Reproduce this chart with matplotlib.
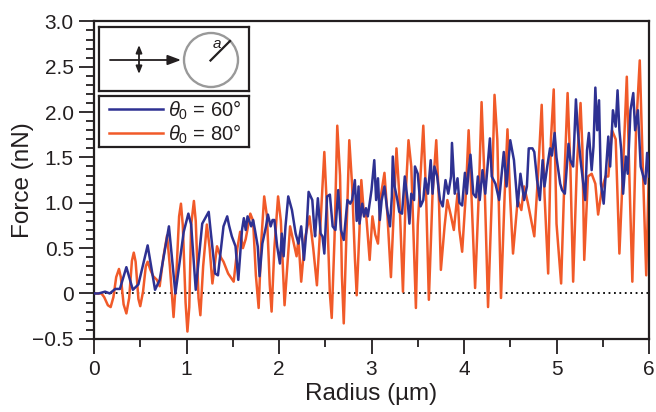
import matplotlib
matplotlib.use('Agg')
import matplotlib.pyplot as plt
from matplotlib.patches import Circle
from matplotlib.ticker import MultipleLocator

plt.rcParams['font.family'] = ['Liberation Sans', 'DejaVu Sans']
plt.rcParams['mathtext.fontset'] = 'custom'
plt.rcParams['mathtext.rm'] = 'Liberation Sans'
plt.rcParams['mathtext.it'] = 'Liberation Sans:italic'

# ---------------- data ----------------
blue_x = [0.00, 0.05, 0.12, 0.17, 0.23, 0.28, 0.35, 0.42, 0.48, 0.58, 0.66, 0.71, 0.81, 0.88,
          0.97, 1.02, 1.05, 1.10, 1.17, 1.24, 1.26, 1.31, 1.34, 1.40, 1.44, 1.46, 1.49, 1.53,
          1.56, 1.60, 1.62, 1.64, 1.66, 1.70, 1.72, 1.74, 1.77, 1.79, 1.82, 1.86, 1.88, 1.91,
          1.93, 1.95, 1.98, 2.01, 2.03, 2.05, 2.07, 2.10, 2.14, 2.18, 2.21, 2.24, 2.27, 2.30,
          2.32, 2.36, 2.38, 2.39, 2.42, 2.45, 2.47, 2.49, 2.52, 2.55, 2.58, 2.61, 2.64, 2.67,
          2.70, 2.74, 2.77, 2.79, 2.82, 2.84, 2.86, 2.87, 2.90, 2.92, 2.94, 2.96, 3.00, 3.03,
          3.05, 3.07, 3.09, 3.11, 3.14, 3.17, 3.20, 3.22, 3.23, 3.25, 3.28, 3.30, 3.33, 3.36,
          3.39, 3.41, 3.43, 3.46, 3.47, 3.50, 3.53, 3.56, 3.58, 3.61, 3.64, 3.66, 3.68, 3.71,
          3.74, 3.77, 3.80, 3.83, 3.86, 3.87, 3.90, 3.93, 3.95, 3.98, 4.01, 4.03, 4.05, 4.07,
          4.10, 4.13, 4.15, 4.17, 4.20, 4.23, 4.28, 4.30, 4.34, 4.38, 4.43, 4.46, 4.50, 4.54,
          4.58, 4.61, 4.65, 4.68, 4.70, 4.74, 4.76, 4.79, 4.82, 4.85, 4.87, 4.90, 4.93, 4.95,
          4.98, 5.00, 5.04, 5.06, 5.09, 5.13, 5.15, 5.18, 5.21, 5.23, 5.26, 5.28, 5.31, 5.33,
          5.35, 5.38, 5.40, 5.42, 5.44, 5.46, 5.48, 5.51, 5.53, 5.56, 5.58, 5.61, 5.64, 5.66,
          5.68, 5.70, 5.72, 5.75, 5.77, 5.80, 5.83, 5.85, 5.88, 5.91, 5.96, 5.98, 6.00]
blue_y = [0.00, 0.00, 0.02, 0.00, 0.05, 0.05, 0.29, 0.04, 0.10, 0.53, 0.04, 0.15, 0.74, 0.00,
          0.68, 0.88, 0.76, 0.04, 0.77, 0.90, 0.70, 0.22, 0.20, 0.74, 0.85, 0.75, 0.63, 0.52,
          0.15, 0.70, 0.83, 0.70, 0.85, 0.74, 0.81, 0.70, 0.52, 0.19, 0.55, 0.74, 0.87, 0.74,
          0.81, 0.81, 0.52, 0.33, 0.66, 0.41, 0.74, 1.07, 0.92, 0.66, 0.55, 0.74, 0.37, 0.74,
          1.12, 1.03, 0.74, 0.63, 1.05, 0.66, 0.63, 0.44, 1.07, 1.09, 0.74, 0.70, 1.14, 0.70,
          0.59, 1.03, 0.99, 1.03, 1.25, 0.80, 1.18, 0.77, 0.99, 0.85, 0.94, 0.85, 1.14, 1.47,
          1.03, 1.27, 0.81, 1.03, 1.18, 0.92, 0.74, 1.07, 1.51, 1.18, 1.03, 0.90, 0.88, 1.29,
          1.03, 0.77, 1.10, 1.03, 1.40, 1.32, 0.96, 1.03, 1.27, 1.10, 1.47, 1.10, 1.40, 1.29,
          1.03, 0.96, 1.25, 1.10, 1.29, 1.66, 1.10, 1.27, 1.00, 0.97, 1.33, 1.10, 1.36, 1.53,
          1.10, 1.06, 1.29, 1.03, 1.36, 1.10, 1.71, 1.29, 1.21, 1.03, 1.56, 1.18, 1.69, 1.47,
          0.96, 1.32, 1.03, 1.18, 1.60, 1.60, 1.56, 1.25, 1.03, 1.47, 1.18, 1.40, 1.60, 1.52,
          1.77, 1.50, 1.21, 1.14, 1.10, 1.65, 1.47, 1.40, 2.14, 1.80, 1.47, 1.29, 1.03, 1.58,
          1.77, 1.36, 1.62, 2.27, 1.80, 2.13, 1.21, 0.99, 1.29, 1.73, 1.40, 2.02, 1.84, 2.24,
          1.80, 1.58, 1.10, 1.51, 1.32, 2.02, 2.21, 1.80, 2.02, 1.40, 1.21, 1.55, 1.29]

orange_x = [0.00, 0.08, 0.11, 0.15, 0.18, 0.21, 0.24, 0.27, 0.29, 0.32, 0.35, 0.38, 0.41, 0.43,
            0.45, 0.48, 0.50, 0.53, 0.56, 0.58, 0.61, 0.64, 0.68, 0.71, 0.75, 0.79, 0.82, 0.86,
            0.89, 0.92, 0.94, 0.96, 0.99, 1.01, 1.03, 1.05, 1.08, 1.10, 1.13, 1.15, 1.18, 1.22,
            1.25, 1.28, 1.33, 1.37, 1.40, 1.45, 1.51, 1.55, 1.58, 1.61, 1.64, 1.69, 1.72, 1.75,
            1.78, 1.81, 1.84, 1.87, 1.90, 1.92, 1.95, 1.99, 2.02, 2.06, 2.09, 2.12, 2.16, 2.19,
            2.21, 2.24, 2.28, 2.33, 2.37, 2.41, 2.45, 2.49, 2.52, 2.55, 2.57, 2.60, 2.63, 2.66,
            2.68, 2.70, 2.73, 2.76, 2.79, 2.82, 2.84, 2.87, 2.89, 2.92, 2.94, 2.98, 3.01, 3.04,
            3.07, 3.10, 3.14, 3.17, 3.21, 3.24, 3.27, 3.30, 3.34, 3.37, 3.40, 3.43, 3.48, 3.50,
            3.53, 3.56, 3.59, 3.62, 3.66, 3.70, 3.73, 3.75, 3.79, 3.82, 3.86, 3.89, 3.93, 3.95,
            3.98, 4.02, 4.05, 4.08, 4.12, 4.16, 4.19, 4.22, 4.26, 4.30, 4.33, 4.36, 4.40, 4.44,
            4.47, 4.50, 4.53, 4.58, 4.62, 4.65, 4.69, 4.76, 4.80, 4.84, 4.87, 4.91, 4.94, 4.97,
            5.00, 5.05, 5.09, 5.12, 5.15, 5.18, 5.22, 5.26, 5.28, 5.30, 5.34, 5.38, 5.42, 5.45,
            5.49, 5.53, 5.56, 5.60, 5.64, 5.68, 5.72, 5.76, 5.79, 5.82, 5.86, 5.90, 5.93, 5.97,
            6.00]
orange_y = [0.00, 0.00, -0.04, -0.13, -0.15, -0.04, 0.18, 0.27, 0.18, -0.12, -0.22, -0.05, 0.36, 0.45,
            0.35, -0.06, -0.14, 0.02, 0.30, 0.35, 0.26, 0.19, 0.15, 0.08, 0.40, 0.64, 0.30, -0.26,
            0.20, 0.85, 0.99, 0.75, -0.10, -0.42, -0.15, 0.75, 1.02, 0.80, -0.05, -0.24, 0.30, 0.76,
            0.50, 0.11, 0.52, 0.40, 0.35, 0.22, 0.13, 0.50, 0.68, 0.50, 0.60, 0.88, 0.80, 0.20,
            -0.16, 0.60, 1.07, 0.85, 0.10, -0.20, 0.50, 1.07, 0.80, -0.13, 0.30, 0.74, 0.55, 0.41,
            0.60, 0.13, 0.60, 0.85, 0.50, 0.09, 0.80, 1.56, 0.90, 0.00, -0.27, 0.60, 1.85, 1.30,
            0.20, -0.33, 0.70, 1.69, 1.20, 0.40, -0.02, 0.70, 1.25, 0.85, 0.90, 0.37, 0.85, 0.65,
            0.55, 1.07, 1.33, 0.90, 0.18, 0.90, 1.60, 1.10, 0.02, 1.10, 1.69, 1.40, -0.16, 0.75,
            1.30, 1.85, 1.10, -0.07, 1.10, 1.69, 1.00, 0.26, 0.74, 1.03, 0.85, 0.70, 1.10, 0.70,
            0.46, 1.10, 1.80, 1.10, 0.06, 1.10, 2.11, 1.30, -0.15, 1.03, 2.19, 1.70, -0.05, 1.10,
            1.81, 1.03, 0.44, 1.03, 0.92, 1.18, 1.00, 0.63, 1.30, 2.08, 1.10, 0.22, 1.70, 2.25,
            0.77, 0.11, 1.40, 2.21, 1.40, 0.13, 1.40, 2.10, 1.60, 0.37, 1.29, 1.32, 1.21, 0.87,
            1.15, 1.29, 1.29, 1.80, 1.70, 0.44, 1.40, 2.39, 1.21, 0.13, 1.80, 2.57, 1.50, 0.20,
            1.40]

y_ticks = [-0.5, 0, 0.5, 1.0, 1.5, 2.0, 2.5, 3.0]
y_ticklabels = ['\u22120.5', '0', '0.5', '1.0', '1.5', '2.0', '2.5', '3.0']
labels = [r'$\theta_0$ = 60°', r'$\theta_0$ = 80°']
blue_c = '#2E3192'
orange_c = '#F15A29'
ink = '#231f20'

# ---------------- figure ----------------
W, H = 656, 412
fig = plt.figure(figsize=(W / 100, H / 100), dpi=100)


def box(x0, y0, x1, y1):
    return [x0 / W, 1 - y1 / H, (x1 - x0) / W, (y1 - y0) / H]


ax = fig.add_axes(box(94, 21.4, 649, 338.8))
ax.axhline(0, color='black', lw=1.3, ls=(0, (1, 2)), zorder=1)
ax.plot(orange_x, orange_y, color=orange_c, lw=1.8, zorder=2, solid_joinstyle='round')
ax.plot(blue_x, blue_y, color=blue_c, lw=1.8, zorder=3, solid_joinstyle='round')

ax.set_xlim(0, 6)
ax.set_ylim(-0.5, 3.0)
ax.xaxis.set_major_locator(MultipleLocator(1))
ax.xaxis.set_minor_locator(MultipleLocator(0.5))
ax.set_yticks(y_ticks)
ax.set_yticklabels(y_ticklabels)
ax.yaxis.set_minor_locator(MultipleLocator(0.1))
ax.tick_params(which='major', direction='out', length=10.5, width=1.3, labelsize=15,
               colors=ink, pad=4)
ax.tick_params(which='minor', direction='out', length=5.5, width=1.3, colors=ink)
ax.tick_params(axis='x', which='major', pad=5)
for s in ax.spines.values():
    s.set_linewidth(1.6)
    s.set_color(ink)
ax.set_xlabel('Radius (µm)', fontsize=17.5, color=ink, labelpad=3)
ax.set_ylabel('Force (nN)', fontsize=17.5, color=ink)
ax.yaxis.set_label_coords(-0.108, 0.5)

# ---------------- schematic box ----------------
sax = fig.add_axes(box(99, 27, 249, 91))
sax.set_xlim(99, 249)
sax.set_ylim(91, 27)
sax.set_xticks([])
sax.set_yticks([])
for s in sax.spines.values():
    s.set_linewidth(1.6)
    s.set_color(ink)
sax.annotate('', xy=(181, 60), xytext=(110, 60),
             arrowprops=dict(arrowstyle='-|>,head_length=0.8,head_width=0.3', lw=1.3,
                             color=ink, shrinkA=0, shrinkB=0))
sax.annotate('', xy=(139, 45), xytext=(139, 74),
             arrowprops=dict(arrowstyle='<|-|>,head_length=0.45,head_width=0.18', lw=1.3,
                             color=ink, shrinkA=0, shrinkB=0))
sax.add_patch(Circle((211, 60), 27, fill=False, edgecolor='#999999', lw=1.7))
sax.plot([210.5, 230], [60.5, 41], color=ink, lw=1.6)
sax.text(216.5, 44, 'a', fontsize=11, style='italic', ha='center', va='center', color=ink)

# ---------------- legend box ----------------
lax = fig.add_axes(box(99, 96, 249, 147))
lax.set_xlim(99, 249)
lax.set_ylim(147, 96)
lax.set_xticks([])
lax.set_yticks([])
for s in lax.spines.values():
    s.set_linewidth(1.6)
    s.set_color(ink)
for yy, c, lab in zip([109, 133], [blue_c, orange_c], labels):
    lax.plot([109, 163], [yy, yy], color=c, lw=1.8)
    lax.text(168, yy + 1, lab, fontsize=14.5, va='center', ha='left', color=ink)

fig.savefig('out.png', dpi=100)
